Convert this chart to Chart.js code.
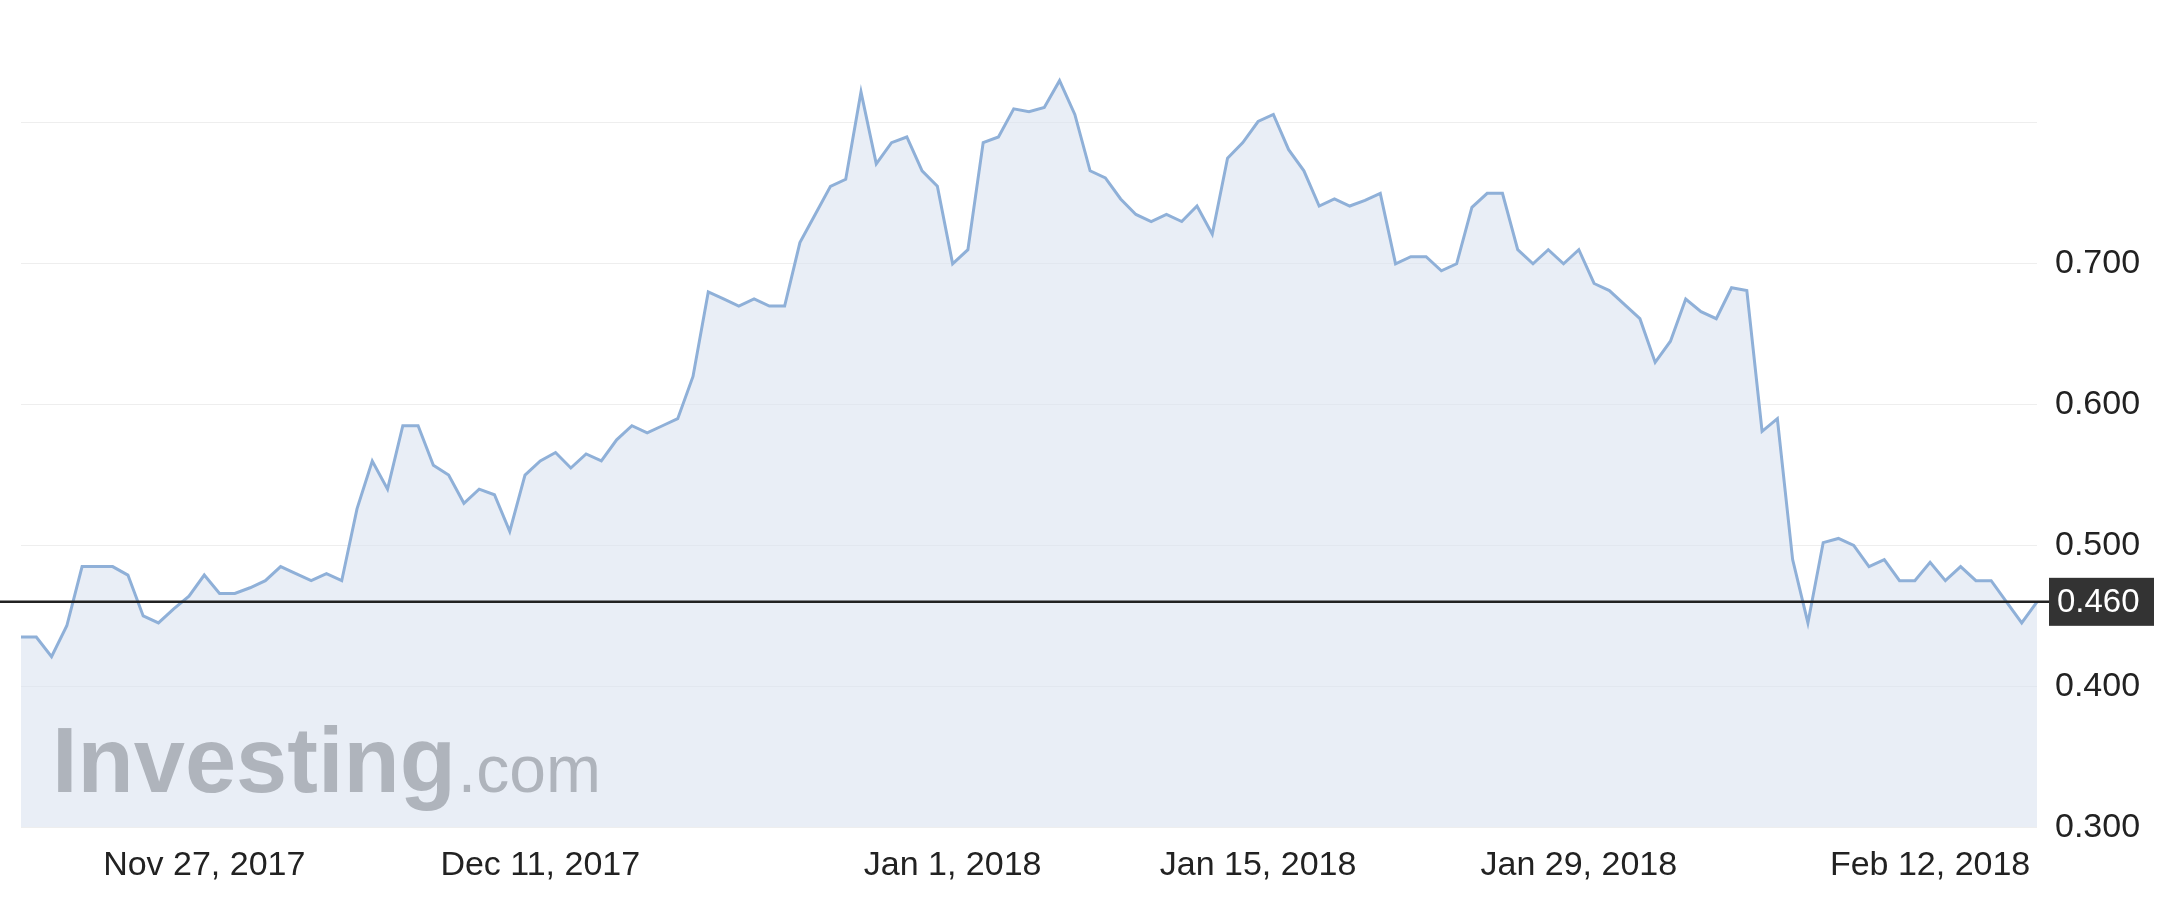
<!DOCTYPE html>
<html><head><meta charset="utf-8">
<script src="https://cdn.jsdelivr.net/npm/chart.js@4"></script>
<style>html,body{margin:0;background:#fff}#w{width:2172px;height:910px}</style></head>
<body><div id="w"><canvas id="c"></canvas></div>
<script>
const prices=[0.435,0.435,0.421,0.443,0.485,0.485,0.485,0.479,0.45,0.445,0.455,0.464,0.479,0.466,0.466,0.47,0.475,0.485,0.48,0.475,0.48,0.475,0.526,0.56,0.54,0.585,0.585,0.557,0.55,0.53,0.54,0.536,0.51,0.55,0.56,0.566,0.555,0.565,0.56,0.575,0.585,0.58,0.585,0.59,0.62,0.68,0.675,0.67,0.675,0.67,0.67,0.715,0.735,0.755,0.76,0.822,0.771,0.786,0.79,0.766,0.755,0.70,0.71,0.786,0.79,0.81,0.808,0.811,0.83,0.806,0.766,0.761,0.746,0.735,0.73,0.735,0.73,0.741,0.721,0.775,0.786,0.801,0.806,0.781,0.766,0.741,0.746,0.741,0.745,0.75,0.70,0.705,0.705,0.695,0.70,0.74,0.75,0.75,0.71,0.70,0.71,0.70,0.71,0.686,0.681,0.671,0.661,0.63,0.645,0.675,0.666,0.661,0.683,0.681,0.581,0.59,0.49,0.445,0.502,0.505,0.5,0.485,0.49,0.475,0.475,0.488,0.475,0.485,0.475,0.475,0.46,0.445,0.46];
const tickLabels={12:"Nov 27, 2017",34:"Dec 11, 2017",61:"Jan 1, 2018",81:"Jan 15, 2018",102:"Jan 29, 2018",125:"Feb 12, 2018"};
const yTicks=[0.3,0.4,0.5,0.6,0.7,0.8];
const lastPrice=0.46;
const labels=prices.map((_,i)=>tickLabels[i]||"");
const deco={id:'deco',
 beforeDatasetsDraw(ch){const c=ch.ctx;c.save();
  c.font='bold 92px "Liberation Sans", Arial';c.fillStyle='rgba(95,95,95,0.9)';c.textBaseline='alphabetic';
  c.fillText('Investing',52,792);const w=c.measureText('Investing').width;
  c.font='66px "Liberation Sans", Arial';c.fillText('.com',52+w+2,792);c.restore();},
 afterDatasetsDraw(ch){const c=ch.ctx,a=ch.chartArea,y=ch.scales.y.getPixelForValue(lastPrice);
  c.save();c.strokeStyle='#222';c.lineWidth=2.5;c.beginPath();c.moveTo(0,y);c.lineTo(a.right+12,y);c.stroke();
  c.fillStyle='#333';c.fillRect(a.right+12,y-24,105,48);c.fillStyle='#fff';c.font='33px "Liberation Sans", Arial';
  c.textBaseline='middle';c.fillText(lastPrice.toFixed(3),a.right+20,y+1);c.restore();}};
new Chart(document.getElementById('c'),{type:'line',
 data:{labels,datasets:[{data:prices,borderColor:'#8fb0d8',borderWidth:3,backgroundColor:'rgba(218,227,240,0.6)',fill:{value:0.3},pointRadius:0,tension:0}]},
 options:{responsive:true,maintainAspectRatio:false,animation:false,
  layout:{padding:{left:21,top:2,right:10,bottom:6}},
  plugins:{legend:{display:false},tooltip:{enabled:false}},
  scales:{
   x:{offset:false,grid:{color:ctx=>tickLabels[ctx.index]?'#f0f0f0':'rgba(0,0,0,0)',drawTicks:false},border:{display:false},
      ticks:{autoSkip:false,maxRotation:0,color:'#222',font:{size:34,family:'"Liberation Sans", Arial'},padding:18,callback:(v,i)=>tickLabels[i]||null}},
   y:{position:'right',min:0.3,max:0.86,afterBuildTicks:s=>{s.ticks=yTicks.map(v=>({value:v}));},afterFit:s=>{s.width=125;},
      grid:{color:'#eeeeee',drawTicks:false},border:{display:false},
      ticks:{color:'#222',padding:18,font:{size:34,family:'"Liberation Sans", Arial'},callback:v=>v<0.75?v.toFixed(3):''}}}},
 plugins:[deco]});
</script></body></html>
